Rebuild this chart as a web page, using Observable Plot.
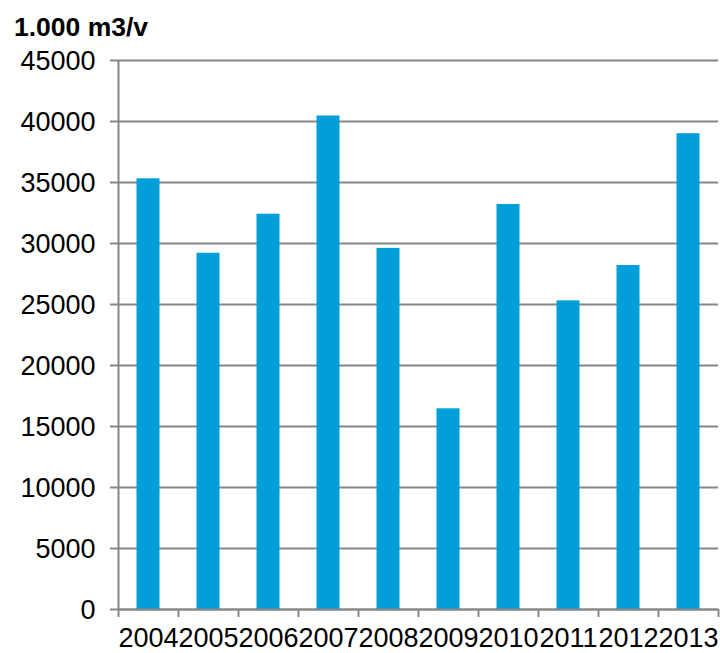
<!DOCTYPE html>
<html>
<head>
<meta charset="utf-8">
<script src="https://cdn.jsdelivr.net/npm/d3@7"></script>
<script src="https://cdn.jsdelivr.net/npm/@observablehq/plot@0.6"></script>
<style>
  html, body { margin: 0; padding: 0; background: #fff; }
  #title { height: 45px; box-sizing: border-box; padding: 14px 0 0 14px; font: bold 26.5px "Liberation Sans", Arial, sans-serif; line-height: 26px; color: #000; }
  svg { display: block; }
</style>
</head>
<body>
<div id="title">1.000 m3/v</div>
<div id="chart"></div>
<script>
const years = ["2004","2005","2006","2007","2008","2009","2010","2011","2012","2013"];
const values = [35300, 29200, 32400, 40450, 29600, 16450, 33200, 25300, 28200, 39000];
const yTicks = [0,5000,10000,15000,20000,25000,30000,35000,40000,45000];

const data = years.map((y, i) => ({year: y, value: values[i]}));
const W = 720, H = 608, mL = 118, mR = 2;
const band = (W - mL - mR) / years.length;

const chart = Plot.plot({
  width: W,
  height: H,
  marginTop: 15,
  marginBottom: 44,
  marginLeft: mL,
  marginRight: mR,
  style: {fontFamily: "'Liberation Sans', Arial, sans-serif", fontSize: "27px", color: "#000", background: "#fff", overflow: "visible"},
  x: {domain: years, padding: 0, label: null},
  y: {domain: [0, 45000], label: null},
  marks: [
    Plot.gridY(yTicks, {stroke: "#868686", strokeWidth: 2, strokeOpacity: 1}),
    Plot.barY(data, {x: "year", y: "value", fill: "#009FDA", insetLeft: 18.5, insetRight: 18.5}),
    Plot.ruleX([years[0]], {dx: -band/2, stroke: "#868686", strokeWidth: 2}),
    Plot.ruleY([0], {stroke: "#868686", strokeWidth: 2}),
    Plot.axisY(yTicks, {tickSize: 8, stroke: "#868686", strokeWidth: 2, tickFormat: () => ""}),
    Plot.text(yTicks, {x: () => years[0], y: d => d, text: d => String(d), dx: -band/2 - 23, dy: 1, textAnchor: "end", fontSize: 27, fill: "#000", lineAnchor: "middle"}),
    Plot.axisX(years, {tickSize: 8, dx: -band/2, stroke: "#868686", strokeWidth: 2, tickFormat: () => ""}),
    Plot.axisX([years[years.length-1]], {tickSize: 8, dx: band/2, stroke: "#868686", strokeWidth: 2, tickFormat: () => ""}),
    Plot.text(years, {x: d => d, y: 0, text: d => d, dy: 29, fontSize: 27, fill: "#000", lineAnchor: "middle"})
  ]
});
document.getElementById("chart").appendChild(chart);
</script>
</body>
</html>
